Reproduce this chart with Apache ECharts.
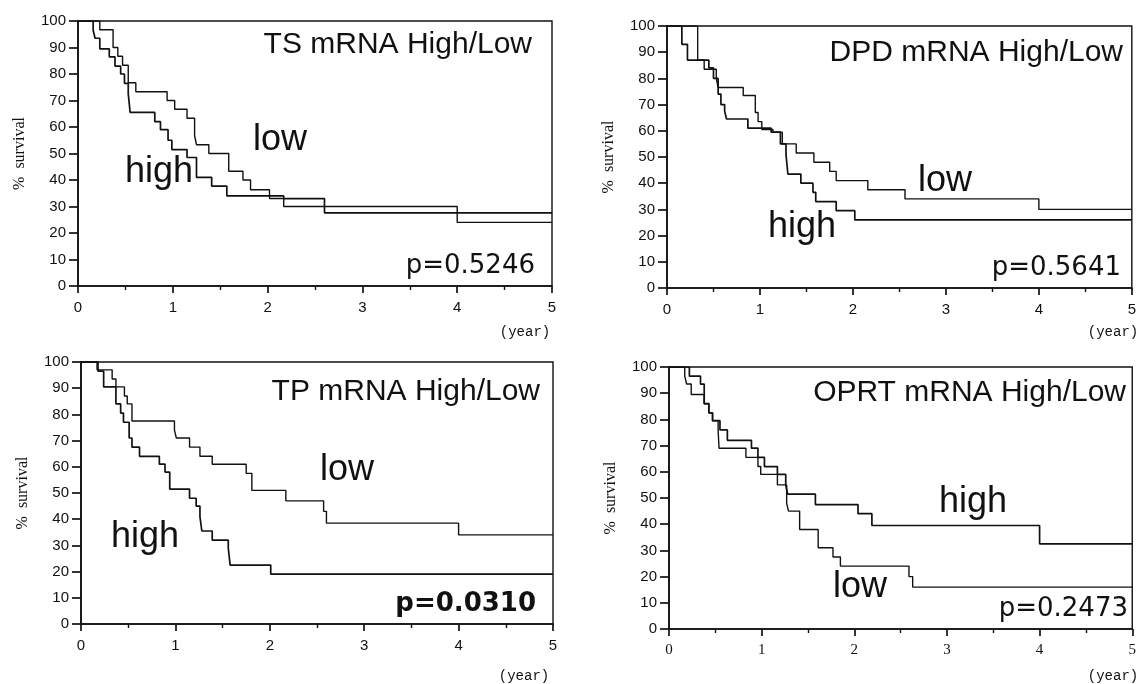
<!DOCTYPE html>
<html>
<head>
<meta charset="utf-8">
<script src="https://cdn.jsdelivr.net/npm/echarts@6/dist/echarts.min.js"></script>
<style>
html,body{margin:0;padding:0;background:#fff;}
#chart{width:1139px;height:684px;}
</style>
</head>
<body>
<div id="chart"></div>
<script>
// ---- Data (time in years, % survival after each step) ----
var xTicks = [0, 1, 2, 3, 4, 5];
var yTicks = [0, 10, 20, 30, 40, 50, 60, 70, 80, 90, 100];

var tsHighT = [0, 0.16, 0.18, 0.23, 0.33, 0.39, 0.45, 0.49, 0.53, 0.55, 0.81, 0.87, 0.95, 0.99, 1.15, 1.25, 1.41, 1.57, 2.17, 2.6, 5];
var tsHighS = [100, 96.5, 93.5, 89.5, 86.5, 83, 80, 76.5, 72.5, 65.5, 62, 59, 55, 51.5, 48.5, 41, 37.7, 34, 33, 27.6, 27.6];
var tsLowT  = [0, 0.23, 0.37, 0.42, 0.47, 0.53, 0.61, 0.94, 1.02, 1.15, 1.23, 1.25, 1.38, 1.59, 1.74, 1.82, 2.02, 2.17, 4.0, 5];
var tsLowS  = [100, 96.7, 90, 86.7, 83.3, 76.7, 73.3, 70, 66.7, 63.3, 56.7, 53.3, 50, 43.3, 40, 36.3, 33, 30, 24, 24];

var dpdHighT = [0, 0.16, 0.22, 0.45, 0.50, 0.55, 0.58, 0.62, 0.64, 0.87, 1.12, 1.22, 1.28, 1.30, 1.44, 1.57, 1.60, 1.82, 2.02, 5];
var dpdHighS = [100, 93, 87, 84, 80, 74, 70, 67.5, 64.5, 61, 59.5, 55, 51, 43.5, 40, 36.5, 33, 29.5, 26, 26];
var dpdLowT  = [0, 0.33, 0.40, 0.53, 0.55, 0.82, 0.95, 0.98, 1.02, 1.14, 1.24, 1.39, 1.58, 1.75, 1.82, 2.16, 2.56, 4.0, 5];
var dpdLowS  = [100, 87, 83.5, 80, 76.5, 73.5, 67, 63.5, 60.5, 59.5, 55, 51.5, 48, 44.5, 41, 37.5, 34, 30, 30];

var tpHighT = [0, 0.18, 0.24, 0.37, 0.42, 0.45, 0.51, 0.54, 0.62, 0.83, 0.89, 0.94, 1.15, 1.22, 1.26, 1.28, 1.39, 1.56, 1.58, 2.01, 5];
var tpHighS = [100, 96.5, 90.5, 84, 80.5, 77, 71, 67.5, 64, 61, 58, 51.5, 48, 45, 41, 35.5, 32, 29, 22.5, 19, 19];
var tpLowT  = [0, 0.17, 0.33, 0.37, 0.46, 0.49, 0.54, 0.99, 1.01, 1.15, 1.26, 1.39, 1.75, 1.81, 2.17, 2.57, 2.60, 4.0, 5];
var tpLowS  = [100, 97, 93.5, 90.5, 87, 84, 77.5, 74, 71, 67.5, 64, 61, 57.5, 51, 47, 43, 38.5, 34, 34];

var oprtHighT = [0, 0.22, 0.34, 0.38, 0.43, 0.47, 0.55, 0.63, 0.89, 0.96, 1.03, 1.17, 1.26, 1.28, 1.58, 2.04, 2.19, 4.0, 5];
var oprtHighS = [100, 96.5, 93.5, 86, 82.5, 79.5, 76, 72, 69, 65.5, 62, 59, 55, 51.5, 47.5, 44, 39.5, 32.5, 32.5];
var oprtLowT  = [0, 0.17, 0.19, 0.24, 0.38, 0.43, 0.47, 0.53, 0.54, 0.83, 0.96, 0.99, 1.17, 1.27, 1.29, 1.41, 1.61, 1.77, 1.85, 2.59, 2.63, 5];
var oprtLowS  = [100, 96.5, 93.5, 89.5, 86, 82.5, 79.5, 76, 69, 65.5, 62, 59, 55, 48, 45, 38, 31, 27.5, 24, 20, 16, 16];

var panelTitles = ['TS mRNA High/Low', 'DPD mRNA High/Low', 'TP mRNA High/Low', 'OPRT mRNA High/Low'];
var pValues = ['p=0.5246', 'p=0.5641', 'p=0.0310', 'p=0.2473'];
var groupNames = ['high', 'low'];
var yName = '%  survival';
var xUnit = '(year)';

// ---- Layout ----
var grids = [
  {left: 78,  top: 21,  width: 474, height: 265},
  {left: 667, top: 26,  width: 470, height: 262},
  {left: 81,  top: 362, width: 472, height: 262},
  {left: 669, top: 367, width: 469, height: 262}
];
var curves = [
  [[tsHighT, tsHighS], [tsLowT, tsLowS]],
  [[dpdHighT, dpdHighS], [dpdLowT, dpdLowS]],
  [[tpHighT, tpHighS], [tpLowT, tpLowS]],
  [[oprtHighT, oprtHighS], [oprtLowT, oprtLowS]]
];

function pairs(t, s) { return t.map(function (v, i) { return [v, s[i]]; }); }

var NARROW = "'Liberation Sans Narrow', 'Arial Narrow', 'Liberation Sans', sans-serif";
var option = {
  backgroundColor: '#fff',
  animation: false,
  grid: [], xAxis: [], yAxis: [], series: [], graphic: []
};

grids.forEach(function (g, i) {
  option.grid.push({left: g.left, top: g.top, width: g.width, height: g.height,
    show: true, borderColor: '#111', borderWidth: 1.4, backgroundColor: 'transparent'});
  var serifX = (i === 3);
  option.xAxis.push({
    gridIndex: i, type: 'value', min: xTicks[0], max: xTicks[xTicks.length - 1], interval: 1,
    axisLine: {show: true, onZero: false, lineStyle: {color: '#111', width: 1.7}},
    axisTick: {show: true, inside: false, length: 7, lineStyle: {color: '#111', width: 1.7}},
    minorTick: {show: true, splitNumber: 2, length: 4, lineStyle: {color: '#111', width: 1.4}},
    splitLine: {show: false}, minorSplitLine: {show: false},
    axisLabel: {margin: 14, color: '#111', fontSize: serifX ? 15 : 15,
      fontFamily: serifX ? 'Liberation Serif' : NARROW,
      fontWeight: 'normal'}
  });
  option.yAxis.push({
    gridIndex: i, type: 'value', min: yTicks[0], max: yTicks[yTicks.length - 1], interval: 10,
    name: yName, nameLocation: 'middle', nameGap: 50,
    nameTextStyle: {fontFamily: 'Liberation Serif', fontSize: 16, color: '#111'},
    axisLine: {show: true, onZero: false, lineStyle: {color: '#111', width: 1.7}},
    axisTick: {show: true, inside: false, length: 9, lineStyle: {color: '#111', width: 1.7}},
    splitLine: {show: false},
    axisLabel: {margin: 12, color: '#111', fontSize: 15, fontFamily: NARROW, fontWeight: 'normal'}
  });
  curves[i].forEach(function (c, k) {
    option.series.push({
      type: 'line', name: groupNames[k], xAxisIndex: i, yAxisIndex: i, step: 'end',
      symbol: 'none', data: pairs(c[0], c[1]),
      lineStyle: {color: '#111', width: k === 0 ? 1.7 : 1.4}
    });
  });
});

function txt(x, y, text, size, family, align, weight) {
  return {type: 'text', x: x, y: y, silent: true,
    style: {text: text, fill: '#111', fontSize: size, fontFamily: family,
      fontWeight: weight || 'normal', align: align, verticalAlign: 'middle'}};
}
var SANS = 'Liberation Sans', DJ = 'DejaVu Sans', MONO = 'Liberation Mono';
option.graphic = [
  // panel 1
  txt(532, 45, panelTitles[0], 30, SANS, 'right'),
  txt(253, 140, groupNames[1], 36, SANS, 'left'),
  txt(125, 172, groupNames[0], 36, SANS, 'left'),
  txt(535, 266, pValues[0], 26, DJ, 'right'),
  txt(525, 332, xUnit, 14, MONO, 'center'),
  // panel 2
  txt(1123, 53, panelTitles[1], 30, SANS, 'right'),
  txt(918, 181, groupNames[1], 36, SANS, 'left'),
  txt(768, 227, groupNames[0], 36, SANS, 'left'),
  txt(1121, 268, pValues[1], 26, DJ, 'right'),
  txt(1113, 332, xUnit, 14, MONO, 'center'),
  // panel 3
  txt(540, 392, panelTitles[2], 30, SANS, 'right'),
  txt(320, 470, groupNames[1], 36, SANS, 'left'),
  txt(111, 537, groupNames[0], 36, SANS, 'left'),
  txt(536, 604, pValues[2], 26, DJ, 'right', 'bold'),
  txt(524, 676, xUnit, 14, MONO, 'center'),
  // panel 4
  txt(1126, 393, panelTitles[3], 30, SANS, 'right'),
  txt(939, 502, groupNames[0], 36, SANS, 'left'),
  txt(833, 587, groupNames[1], 36, SANS, 'left'),
  txt(1128, 609, pValues[3], 26, DJ, 'right'),
  txt(1113, 676, xUnit, 14, MONO, 'center')
];

var chart = echarts.init(document.getElementById('chart'), null, {renderer: 'canvas'});
chart.setOption(option);
</script>
</body>
</html>
